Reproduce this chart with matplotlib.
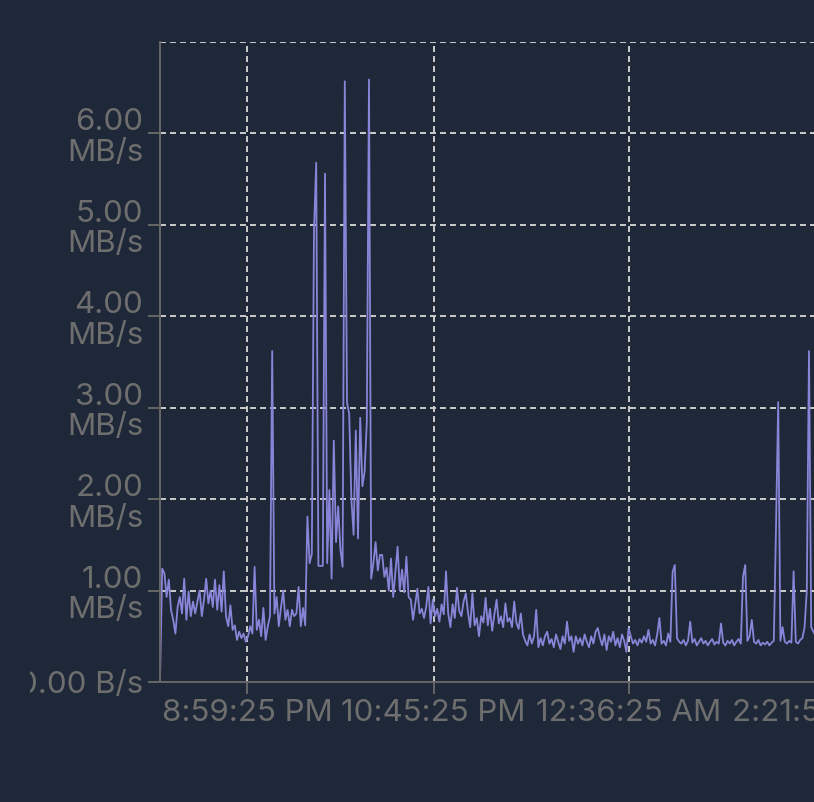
import numpy as np
import pandas as pd
import matplotlib
matplotlib.use("Agg")
import matplotlib.pyplot as plt
import matplotlib.dates as mdates
from matplotlib.patches import Rectangle

# ---- data ----
start_time = "2024-01-01 20:10:00"
sample_interval = "75s"

throughput_mb = [
    0.00, 1.24, 1.19, 0.93, 1.12, 0.79, 0.68, 0.53, 0.82, 0.93,
    0.75, 1.13, 0.68, 0.99, 0.72, 0.88, 0.75, 0.88, 1.00, 0.72,
    0.90, 1.13, 0.86, 1.00, 0.82, 1.12, 0.79, 1.06, 0.77, 1.21,
    0.72, 0.61, 0.84, 0.57, 0.62, 0.46, 0.55, 0.48, 0.53, 0.44,
    0.50, 0.61, 0.53, 1.26, 0.57, 0.68, 0.50, 0.81, 0.46, 0.61,
    0.72, 3.62, 0.75, 0.93, 0.61, 0.82, 1.00, 0.68, 0.79, 0.61,
    0.79, 0.72, 0.75, 1.04, 0.61, 0.81, 0.62, 1.81, 1.30, 1.40,
    4.95, 5.68, 1.27, 1.27, 1.27, 5.56, 1.30, 2.10, 1.13, 2.64,
    1.53, 1.92, 1.45, 1.26, 6.57, 3.06, 2.93, 2.00, 1.61, 2.75,
    1.57, 2.89, 2.14, 2.30, 2.84, 6.59, 1.13, 1.30, 1.53, 1.22,
    1.39, 1.39, 1.15, 1.25, 1.00, 1.35, 0.93, 1.20, 1.48, 1.00,
    1.23, 0.98, 1.37, 0.93, 0.90, 0.68, 0.85, 1.02, 0.75, 0.80,
    0.70, 0.82, 1.04, 0.64, 0.90, 0.72, 0.80, 0.66, 0.85, 0.74,
    1.21, 0.75, 0.60, 0.85, 0.70, 1.03, 0.78, 0.72, 0.88, 0.97,
    0.76, 0.60, 0.97, 0.62, 0.70, 0.50, 0.72, 0.65, 0.92, 0.62,
    0.80, 0.56, 0.74, 0.90, 0.64, 0.72, 0.60, 0.86, 0.66, 0.70,
    0.60, 0.88, 0.65, 0.58, 0.75, 0.52, 0.45, 0.40, 0.52, 0.42,
    0.50, 0.79, 0.38, 0.48, 0.40, 0.50, 0.55, 0.42, 0.47, 0.38,
    0.52, 0.44, 0.36, 0.50, 0.42, 0.66, 0.45, 0.50, 0.33, 0.50,
    0.42, 0.48, 0.40, 0.52, 0.44, 0.38, 0.50, 0.42, 0.55, 0.59,
    0.48, 0.40, 0.52, 0.35, 0.50, 0.44, 0.55, 0.40, 0.48, 0.38,
    0.52, 0.45, 0.33, 0.59, 0.50, 0.42, 0.46, 0.40, 0.47, 0.43,
    0.50, 0.44, 0.57, 0.42, 0.46, 0.40, 0.52, 0.70, 0.42, 0.45,
    0.40, 0.53, 0.44, 1.20, 1.28, 0.48, 0.44, 0.42, 0.46, 0.40,
    0.45, 0.66, 0.43, 0.47, 0.40, 0.44, 0.48, 0.42, 0.45, 0.40,
    0.44, 0.47, 0.41, 0.44, 0.42, 0.64, 0.43, 0.40, 0.45, 0.42,
    0.46, 0.40, 0.44, 0.47, 0.42, 1.15, 1.28, 0.45, 0.50, 0.68,
    0.44, 0.42, 0.46, 0.40, 0.43, 0.41, 0.44, 0.40, 0.43, 0.45,
    1.69, 3.06, 0.45, 0.60, 0.44, 0.42, 0.45, 0.43, 1.21, 0.44,
    0.42, 0.46, 0.48, 0.60, 1.00, 3.62, 0.60, 0.55, 0.50,
]

y_ticks = [0, 1, 2, 3, 4, 5, 6]
y_tick_labels = ["0.00 B/s", "1.00\nMB/s", "2.00\nMB/s", "3.00\nMB/s",
                 "4.00\nMB/s", "5.00\nMB/s", "6.00\nMB/s"]
x_tick_times = ["2024-01-01 20:59:25", "2024-01-01 22:45:25",
                "2024-01-02 00:36:25", "2024-01-02 02:21:55"]
x_tick_labels = ["8:59:25 PM", "10:45:25 PM", "12:36:25 AM", "2:21:55 AM"]

# ---- style ----
BG = "#1f2838"
LINE = "#8884d8"
GRID = "#cccccc"
AXIS = "#666666"
TEXT = "#6e6e6e"

plt.rcParams["font.family"] = ["Inter", "DejaVu Sans"]
plt.rcParams["lines.scale_dashes"] = False

W, H = 814, 802
fig = plt.figure(figsize=(W / 100, H / 100), dpi=100, facecolor=BG)
left_px, right_px, top_px, bottom_px = 160, 820, 42, 682
ax = fig.add_axes([left_px / W, (H - bottom_px) / H,
                   (right_px - left_px) / W, (bottom_px - top_px) / H])
ax.set_facecolor(BG)

times = pd.date_range(start=start_time, periods=len(throughput_mb), freq=sample_interval)
t0 = pd.Timestamp(start_time)
ax.set_xlim(t0, t0 + pd.Timedelta(minutes=375))
ax.set_ylim(0, 7)

dash = (0, (4.3, 2.9))
xt = pd.to_datetime(x_tick_times)
for t in xt:
    ax.axvline(t, color=GRID, lw=1.4, ls=dash, zorder=1)
for v in y_ticks[1:] + [7]:
    ax.axhline(v, color=GRID, lw=1.4, ls=dash, zorder=1)

ax.plot(times, throughput_mb, color=LINE, lw=1.3, zorder=3, solid_joinstyle="round")

ax.set_yticks(y_ticks)
ax.set_yticklabels(y_tick_labels, linespacing=1.12)
ax.set_xticks(xt)
ax.set_xticklabels(x_tick_labels)

ax.tick_params(axis="both", colors=AXIS, length=8.6, width=1.4, labelsize=22.5,
               labelcolor=TEXT)
ax.tick_params(axis="y", pad=3.5)
ax.tick_params(axis="x", pad=3.5)

for s in ["top", "right"]:
    ax.spines[s].set_visible(False)
for s in ["left", "bottom"]:
    ax.spines[s].set_color(AXIS)
    ax.spines[s].set_linewidth(1.4)
    ax.spines[s].set_zorder(4)

# clip of the leftmost label area as in the reference
fig.patches.append(Rectangle((0, 0), 30 / W, 1, transform=fig.transFigure,
                             facecolor=BG, edgecolor="none", zorder=10))

fig.savefig("out.png", dpi=100, facecolor=BG)
